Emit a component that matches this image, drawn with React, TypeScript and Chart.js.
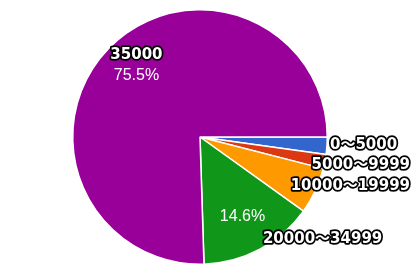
import React, { useEffect, useRef } from "react";
import { Chart, registerables } from "chart.js";

Chart.register(...registerables);

const categories = ["0～5000", "5000～9999", "10000～19999", "20000～34999", "35000"];
const shares = [2.2, 1.8, 5.9, 14.6, 75.5];
const colors = ["#3366cc", "#dc3912", "#ff9900", "#109618", "#990099"];

const PCT_FONT = '"Liberation Sans", Arial, "Noto Sans CJK JP", sans-serif';
const NAME_FONT = '"DejaVu Sans", "Noto Sans CJK JP", sans-serif';

function outlinedText(ctx: CanvasRenderingContext2D, text: string, x: number, y: number) {
  ctx.lineJoin = "round";
  ctx.lineWidth = 3.5;
  ctx.strokeStyle = "#000000";
  ctx.strokeText(text, x, y);
  ctx.fillStyle = "#ffffff";
  ctx.fillText(text, x, y);
}

const labelPlugin = {
  id: "pieLabels",
  afterDatasetsDraw(chart: any) {
    const ctx: CanvasRenderingContext2D = chart.ctx;
    const meta = chart.getDatasetMeta(0);
    const data: number[] = chart.data.datasets[0].data;
    const total = data.reduce((a, b) => a + b, 0);
    const labels: string[] = chart.data.labels;
    const W = chart.width;
    ctx.save();
    ctx.textBaseline = "middle";
    let prevY = -Infinity;
    meta.data.forEach((arc: any, i: number) => {
      const { x, y, startAngle, endAngle, outerRadius } = arc.getProps(
        ["x", "y", "startAngle", "endAngle", "outerRadius"],
        true
      );
      const mid = (startAngle + endAngle) / 2;
      const pct = (data[i] / total) * 100;
      const pctText = pct.toFixed(1) + "%";
      if (pct > 50) {
        const r = outerRadius * 0.75;
        const cx = x + r * Math.cos(mid) + 5;
        const cy = y + r * Math.sin(mid) - 5;
        ctx.textAlign = "center";
        ctx.font = "bold 15px " + NAME_FONT;
        outlinedText(ctx, labels[i], cx, cy - 10);
        ctx.font = "16px " + PCT_FONT;
        ctx.fillStyle = "#ffffff";
        ctx.fillText(pctText, cx, cy + 10.5);
        return;
      }
      if (pct >= 10) {
        const r = outerRadius * 0.71;
        ctx.textAlign = "center";
        ctx.font = "16px " + PCT_FONT;
        ctx.fillStyle = "#ffffff";
        ctx.fillText(pctText, x + r * Math.cos(mid), y + r * Math.sin(mid));
      }
      ctx.font = "bold 15px " + NAME_FONT;
      ctx.textAlign = "left";
      const w = ctx.measureText(labels[i]).width;
      let lx = x + outerRadius * Math.cos(mid) + 3;
      if (lx + w > W - 5) lx = W - 5 - w;
      let ly = y + outerRadius * Math.sin(mid) - 12 * Math.sin(mid);
      if (ly < prevY + 20.5) ly = prevY + 20.5;
      prevY = ly;
      outlinedText(ctx, labels[i], lx, ly);
    });
    ctx.restore();
  },
};

export default function App() {
  const ref = useRef<HTMLCanvasElement | null>(null);
  useEffect(() => {
    if (!ref.current) return;
    const chart = new Chart(ref.current, {
      type: "pie",
      data: {
        labels: categories,
        datasets: [
          {
            data: shares,
            backgroundColor: colors,
            borderColor: "#ffffff",
            borderWidth: 1.5,
          },
        ],
      },
      options: {
        responsive: false,
        animation: false,
        rotation: 90,
        layout: { padding: { left: 72, right: 87, top: 9, bottom: 11 } },
        plugins: {
          legend: { display: false },
          tooltip: { enabled: false },
        },
      },
      plugins: [labelPlugin],
    });
    return () => chart.destroy();
  }, []);
  return (
    <div style={{ position: "fixed", left: 0, top: 0, width: 415, height: 276, background: "#ffffff" }}>
      <canvas ref={ref} width={415} height={276} />
    </div>
  );
}
